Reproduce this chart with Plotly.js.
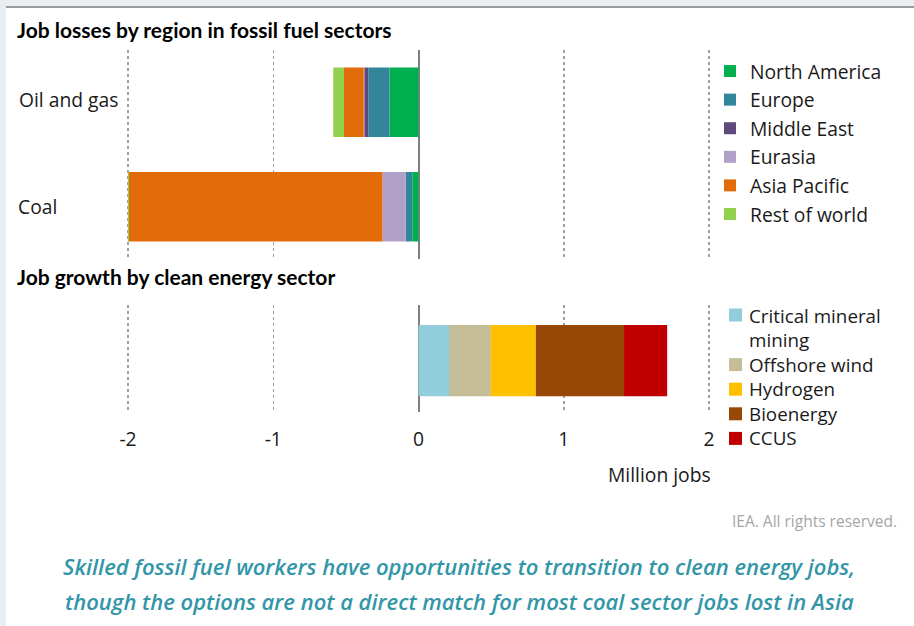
<!DOCTYPE html>
<html>
<head>
<meta charset="utf-8">
<script src="https://cdn.plot.ly/plotly-3.0.1.min.js"></script>
<style>
  html, body { margin: 0; padding: 0; background: #fff; }
  #wrap { position: relative; width: 914px; height: 626px; overflow: hidden; }
  #chart { position: absolute; left: 0; top: 0; width: 914px; height: 626px; }
  .strip-top { position: absolute; left: 0; top: 0; width: 914px; height: 6px; background: #e9eef3; z-index: 5; }
  .line-top { position: absolute; left: 6px; top: 6px; width: 908px; height: 2px; background: #9a9a9a; z-index: 5; }
  .strip-left { position: absolute; left: 0; top: 6px; width: 6px; height: 620px; background: #e9eef3; z-index: 5; }
</style>
</head>
<body>
<div id="wrap">
  <div id="chart"></div>
  <div class="strip-top"></div>
  <div class="line-top"></div>
  <div class="strip-left"></div>
</div>
<script>
// ---- Data (million jobs) ----
const fossilCategories = ["Oil and gas", "Coal"];
const regions = ["North America", "Europe", "Middle East", "Eurasia", "Asia Pacific", "Rest of world"];
const northAmerica = [-0.20, -0.043];
const europe       = [-0.145, -0.046];
const middleEast   = [-0.028, 0];
const eurasia      = [-0.004, -0.159];
const asiaPacific  = [-0.136, -1.745];
const restOfWorld  = [-0.074, -0.007];
const regionValues = [northAmerica, europe, middleEast, eurasia, asiaPacific, restOfWorld];
const regionColors = ["#00b050", "#31869b", "#604a7b", "#b1a0c7", "#e26b0a", "#92d050"];

const cleanCategory = ["Clean energy"];
const sectors = ["Critical mineral<br>mining", "Offshore wind", "Hydrogen", "Bioenergy", "CCUS"];
const sectorValues = [0.21, 0.288, 0.31, 0.607, 0.297];
const sectorColors = ["#92cddc", "#c4bd97", "#ffc000", "#974706", "#c00000"];

const xTicks = [-2, -1, 0, 1, 2];
const xTickText = ["-2", "-1", "0", "1", "2"];

// ---- Geometry ----
const W = 914, H = 626;
const mL = 41, mR = 198, mT = 50, mB = 214;
const pw = W - mL - mR, ph = H - mT - mB;
const px2x = p => (p - mL) / pw;
const px2y = p => (H - mB - p) / ph;

const FONT = "'Open Sans', sans-serif";
const BOLD = "Lato, 'Open Sans', sans-serif";
const TXT = 19.3;

const traces = [];
regions.forEach((r, i) => {
  traces.push({
    type: "bar", orientation: "h",
    name: r, x: regionValues[i], y: fossilCategories,
    xaxis: "x", yaxis: "y",
    marker: { color: regionColors[i], line: { width: 0 } },
    legend: "legend", legendgroup: "r" + i,
    hoverinfo: "name+x"
  });
});
sectors.forEach((s, i) => {
  traces.push({
    type: "bar", orientation: "h",
    name: s, x: [sectorValues[i]], y: cleanCategory,
    xaxis: "x", yaxis: "y2",
    marker: { color: sectorColors[i], line: { width: 0 } },
    showlegend: false,
    hoverinfo: "name+x"
  });
});

// Second legend (clean energy sectors), drawn as swatches + labels
const legend2Shapes = [];
const legend2Annots = [];
const l2FirstCenter = 315, l2Step = 24.6, l2LineGap = 25;
let cy = l2FirstCenter;
sectors.forEach((s, i) => {
  const lines = s.split("<br>").length;
  legend2Shapes.push({
    type: "rect", xref: "paper", yref: "paper",
    x0: px2x(729), x1: px2x(742), y0: px2y(cy - 6.5), y1: px2y(cy + 6.5),
    fillcolor: sectorColors[i], line: { width: 0 }
  });
  legend2Annots.push({
    text: s, xref: "paper", yref: "paper",
    x: px2x(747), y: px2y(cy + (lines - 1) * l2LineGap / 2),
    xanchor: "left", yanchor: "middle", align: "left", showarrow: false,
    font: { family: FONT, size: 18.8, color: "#1a1a1a" }
  });
  cy += (lines - 1) * l2LineGap + l2Step;
});

const layout = {
  width: W, height: H,
  margin: { l: mL, r: mR, t: mT, b: mB, pad: 0 },
  paper_bgcolor: "#ffffff", plot_bgcolor: "#ffffff",
  barmode: "relative", bargap: 0.335,
  font: { family: FONT, color: "#1a1a1a", size: TXT },
  showlegend: true,
  xaxis: {
    anchor: "y2", domain: [0, 1],
    range: [-2 - (128 - mL) / 145.25, 2 + (W - mR - 709) / 145.25],
    tickmode: "array", tickvals: xTicks, ticktext: xTickText,
    ticks: "", ticklabelstandoff: 14,
    tickfont: { family: FONT, size: TXT, color: "#1a1a1a" },
    showgrid: true, gridcolor: "#a0a0a0", griddash: "dot", gridwidth: 1.5,
    zeroline: true, zerolinecolor: "#7f7f7f", zerolinewidth: 2,
    showline: false, fixedrange: true
  },
  yaxis: {
    domain: [px2y(259), 1],
    type: "category", categoryorder: "array", categoryarray: ["Coal", "Oil and gas"],
    range: [-0.5, 1.5],
    showticklabels: false, showgrid: false, zeroline: false, showline: false, ticks: "",
    fixedrange: true
  },
  yaxis2: {
    domain: [0, px2y(305)],
    type: "category", categoryarray: cleanCategory,
    range: [-0.48, 0.52],
    showticklabels: false, showgrid: false, zeroline: false, showline: false, ticks: "",
    fixedrange: true
  },
  legend: {
    x: px2x(710), xanchor: "left", y: px2y(52), yanchor: "top",
    traceorder: "grouped", tracegroupgap: 0.5, valign: "top",
    font: { family: FONT, size: TXT, color: "#1a1a1a" },
    bgcolor: "rgba(0,0,0,0)"
  },
  shapes: legend2Shapes,
  annotations: [
    { text: "<b>Job losses by region in fossil fuel sectors</b>", xref: "paper", yref: "paper",
      x: px2x(15), y: px2y(30), xanchor: "left", yanchor: "middle", showarrow: false,
      font: { family: BOLD, size: 21, color: "#000" } },
    { text: "<b>Job growth by clean energy sector</b>", xref: "paper", yref: "paper",
      x: px2x(15), y: px2y(276), xanchor: "left", yanchor: "middle", showarrow: false,
      font: { family: BOLD, size: 21, color: "#000" } },
    { text: fossilCategories[0], xref: "paper", yref: "paper",
      x: px2x(17), y: px2y(99), xanchor: "left", yanchor: "middle", showarrow: false,
      font: { family: FONT, size: TXT, color: "#1a1a1a" } },
    { text: fossilCategories[1], xref: "paper", yref: "paper",
      x: px2x(16), y: px2y(206), xanchor: "left", yanchor: "middle", showarrow: false,
      font: { family: FONT, size: TXT, color: "#1a1a1a" } },
    { text: "Million jobs", xref: "paper", yref: "paper",
      x: px2x(713), y: px2y(474), xanchor: "right", yanchor: "middle", showarrow: false,
      font: { family: FONT, size: TXT, color: "#1a1a1a" } },
    { text: "IEA. All rights reserved.", xref: "paper", yref: "paper",
      x: px2x(899), y: px2y(521), xanchor: "right", yanchor: "middle", showarrow: false,
      font: { family: FONT, size: 15.5, color: "#a6a6a6" } },
    { text: "Skilled fossil fuel workers have opportunities to transition to clean energy jobs,",
      xref: "paper", yref: "paper", x: px2x(459), y: px2y(566), xanchor: "center", yanchor: "middle",
      showarrow: false,
      font: { family: FONT, size: 22, color: "#3296a8", style: "italic", weight: 600 } },
    { text: "though the options are not a direct match for most coal sector jobs lost in Asia",
      xref: "paper", yref: "paper", x: px2x(459), y: px2y(601), xanchor: "center", yanchor: "middle",
      showarrow: false,
      font: { family: FONT, size: 22, color: "#3296a8", style: "italic", weight: 600 } }
  ].concat(legend2Annots)
};

Plotly.newPlot("chart", traces, layout, { displayModeBar: false, staticPlot: true });
</script>
</body>
</html>
